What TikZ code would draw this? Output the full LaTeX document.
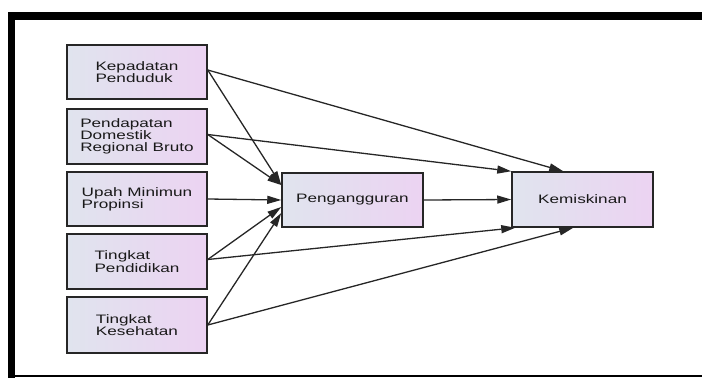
\documentclass[tikz,border=0pt]{standalone}
\usepackage{fontspec}
\setmainfont[FakeStretch=1.4]{Liberation Sans}
\usetikzlibrary{arrows.meta,calc}
\definecolor{boxL}{HTML}{E0E4EE}
\definecolor{boxR}{HTML}{ECD3F2}
\definecolor{edgeC}{HTML}{262626}
\tikzset{
  varbox/.style={draw=edgeC, line width=1.5bp, rectangle, left color=boxL, right color=boxR,
    minimum width=140bp, minimum height=54bp, inner sep=0pt, align=left,
    font=\fontsize{12.3}{12.3}\selectfont, text=black!90},
  conn/.style={draw=black!85, line width=1.3bp, -{Triangle[length=14bp,width=8bp]}}
}
\begin{document}
\begin{tikzpicture}[x=1bp,y=-1bp]
\useasboundingbox (0,0) rectangle (702,378);
% frame
\fill[black] (8,12) rectangle (702,20);
\fill[black] (8,12) rectangle (15,378);
\draw[black, line width=2bp] (8,375.5) -- (702,375.5);
% nodes
\node[varbox] (b1) at (137,72) {Kepadatan\\Penduduk};
\node[varbox, minimum height=55bp] (b2) at (137,136.5) {Pendapatan\\Domestik\\Regional Bruto};
\node[varbox] (b3) at (137,199) {Upah Minimun\\Propinsi};
\node[varbox, minimum height=55bp] (b4) at (137,261.5) {Tingkat\\Pendidikan};
\node[varbox, minimum height=56bp] (b5) at (137,325) {Tingkat\\Kesehatan};
\node[varbox, minimum width=141bp] (peng) at (352.5,200) {Pengangguran};
\node[varbox, minimum width=141bp, minimum height=55bp] (kem) at (582.5,199.5) {Kemiskinan};
% anchor points
\coordinate (s1) at ($(b1.east)+(0,-2)$);
\coordinate (s2) at ($(b2.east)+(0,-2)$);
\coordinate (s4) at ($(b4.east)+(0,-2)$);
\coordinate (s5) at (b5.east);
\coordinate (pa) at ($(peng.west)+(0,-15)$);
\coordinate (pb) at ($(peng.west)+(0,7)$);
\coordinate (pc) at ($(peng.west)+(0,13)$);
\coordinate (k1) at ($(kem.north west)+(52,0)$);
\coordinate (k4) at ($(kem.south west)+(4,0)$);
\coordinate (k5) at ($(kem.south west)+(62,0)$);
% connectors
\draw[conn] (s1) -- (k1);
\draw[conn] (s1) -- (pa);
\draw[conn] (s2) -- (kem.north west);
\draw[conn] (s2) -- (pa);
\draw[conn] (b3.east) -- (peng.west);
\draw[conn] (peng.east) -- (kem.west);
\draw[conn] (s4) -- (pb);
\draw[conn] (s4) -- (k4);
\draw[conn] (s5) -- (pc);
\draw[conn] (s5) -- (k5);
\end{tikzpicture}
\end{document}
